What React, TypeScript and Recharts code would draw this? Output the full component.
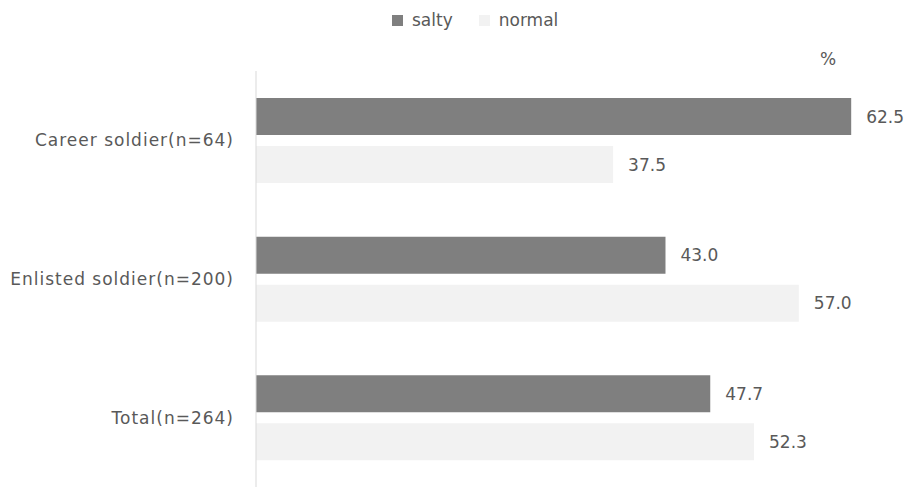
import React from 'react'
import {
  BarChart,
  Bar,
  XAxis,
  YAxis,
  Legend,
  LabelList,
} from 'recharts'

const GROUPS = ['Career soldier(n=64)', 'Enlisted soldier(n=200)', 'Total(n=264)']
const SALTY = [62.5, 43.0, 47.7]
const NORMAL = [37.5, 57.0, 52.3]
const SERIES = [
  { key: 'salty', color: '#7f7f7f' },
  { key: 'normal', color: '#f2f2f2' },
]

const FONT = '"DejaVu Sans", sans-serif'
const TEXT = '#595959'
const FS = 17

const data = GROUPS.map((name, i) => ({ name, salty: SALTY[i], normal: NORMAL[i] }))

const fmt = (v: any) => Number(v).toFixed(1)

// legend drawn in series order, not alphabetical
function LegendContent() {
  return (
    <div style={{ display: 'flex', alignItems: 'center', height: 24, paddingLeft: 392, fontFamily: FONT, fontSize: FS, color: TEXT }}>
      {SERIES.map((s) => (
        <div key={s.key} style={{ display: 'flex', alignItems: 'center', marginRight: 26 }}>
          <span style={{ display: 'inline-block', width: 11, height: 11, background: s.color, marginRight: 9 }} />
          <span>{s.key}</span>
        </div>
      ))}
    </div>
  )
}

export default function App() {
  return (
    <div style={{ position: 'absolute', left: 0, top: 0, width: 909, height: 487, background: '#fff', fontFamily: FONT }}>
      <BarChart
        width={909}
        height={487}
        data={data}
        layout="vertical"
        margin={{ top: 47, right: 34, left: 16, bottom: 0 }}
        barCategoryGap={27}
        barGap={11}
      >
        <XAxis type="number" domain={[0, 65]} hide />
        <YAxis
          type="category"
          dataKey="name"
          width={240}
          axisLine={{ stroke: '#d9d9d9' }}
          tickLine={false}
          tickSize={0}
          tickMargin={22}
          tick={{ fill: TEXT, fontSize: FS, fontFamily: FONT, letterSpacing: 1 }}
        />
        <Legend
          verticalAlign="top"
          content={LegendContent}
          wrapperStyle={{ top: 8, left: 0, width: 909 }}
        />
        {SERIES.map((s) => (
          <Bar key={s.key} dataKey={s.key} name={s.key} fill={s.color} barSize={37} isAnimationActive={false}>
            <LabelList dataKey={s.key} position="right" offset={15} formatter={fmt} fill={TEXT} fontSize={FS} fontFamily={FONT} />
          </Bar>
        ))}
      </BarChart>
      <span style={{ position: 'absolute', left: 820, top: 49, fontSize: FS, color: TEXT }}>%</span>
    </div>
  )
}
